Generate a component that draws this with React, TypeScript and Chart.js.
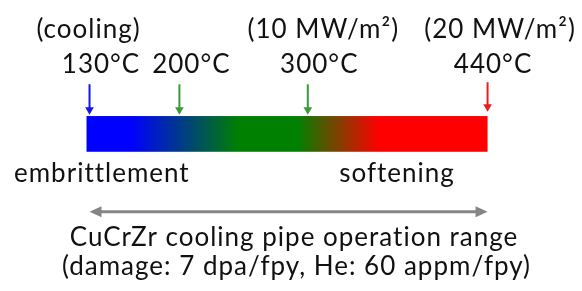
import React, { useEffect, useRef } from "react";
import { Chart, registerables } from "chart.js";

Chart.register(...registerables);

// ---- data ----
const markerTemps = [130, 200, 300, 440];
const markerLabels = ["130°C", "200°C", "300°C", "440°C"];
const markerNotes = ["(cooling)", "", "(10 MW/m²)", "(20 MW/m²)"];
const markerColors = ["#1515e6", "#3b9b3b", "#3b9b3b", "#e52020"];
const rangeStart = 130;
const rangeEnd = 440;
const regionLabels = ["embrittlement", "softening"];
const captionLines = [
  "CuCrZr cooling pipe operation range",
  "(damage: 7 dpa/fpy, He: 60 appm/fpy)",
];

const FONT = "Lato, 'Open Sans', sans-serif";

export default function App() {
  const ref = useRef<HTMLCanvasElement | null>(null);

  useEffect(() => {
    document.body.style.margin = "0";
    document.body.style.background = "#ffffff";
    const canvas = ref.current!;
    const k = (491 - 86) / (rangeEnd - rangeStart);
    const xMin = rangeStart - 86 / k;
    const xMax = rangeStart + (582 - 86) / k;

    const diagram = {
      id: "diagram",
      beforeDatasetsDraw(chart: any) {
        const { ctx } = chart;
        const xs = chart.scales.x;
        const ys = chart.scales.y;
        const X = (v: number) => xs.getPixelForValue(v);
        const Y = (v: number) => ys.getPixelForValue(v);
        ctx.save();
        // gradient bar
        const x0 = X(rangeStart) - 3;
        const x1 = X(rangeEnd);
        const y0 = Y(115);
        const y1 = Y(152);
        const g = ctx.createLinearGradient(x0, 0, x1, 0);
        g.addColorStop(0, "#0000ff");
        g.addColorStop(0.11, "#0000ff");
        g.addColorStop(0.38, "#008000");
        g.addColorStop(0.525, "#008000");
        g.addColorStop(0.73, "#ff0000");
        g.addColorStop(1, "#ff0000");
        ctx.fillStyle = g;
        ctx.fillRect(x0, y0, x1 - x0, y1 - y0);

        // gray double arrow
        const ay = Y(214);
        const ax0 = X(rangeStart);
        const ax1 = X(rangeEnd);
        ctx.strokeStyle = "#858585";
        ctx.fillStyle = "#858585";
        ctx.lineWidth = 3;
        ctx.beginPath();
        ctx.moveTo(ax0 + 8, ay);
        ctx.lineTo(ax1 - 8, ay);
        ctx.stroke();
        ctx.beginPath();
        ctx.moveTo(ax0, ay);
        ctx.lineTo(ax0 + 12, ay - 5.5);
        ctx.lineTo(ax0 + 12, ay + 5.5);
        ctx.closePath();
        ctx.fill();
        ctx.beginPath();
        ctx.moveTo(ax1, ay);
        ctx.lineTo(ax1 - 12, ay - 5.5);
        ctx.lineTo(ax1 - 12, ay + 5.5);
        ctx.closePath();
        ctx.fill();

        // texts
        ctx.fillStyle = "#111111";
        ctx.textBaseline = "alphabetic";
        ctx.font = `26px ${FONT}`;
        (ctx as any).letterSpacing = "1px";
        ctx.textAlign = "center";
        const labelDx = [11.5, 12, 11.5, 5.5];
        const noteDx = [-1, 0, 15.5, 12.5];
        markerTemps.forEach((t, i) => {
          ctx.fillText(markerLabels[i], X(t) + labelDx[i], Y(70));
          if (markerNotes[i]) ctx.fillText(markerNotes[i], X(t) + noteDx[i], Y(34));
        });
        ctx.textAlign = "left";
        ctx.fillText(regionLabels[0], 14, Y(183));
        ctx.textAlign = "center";
        ctx.fillText(regionLabels[1], 397, Y(183));
        ctx.fillText(captionLines[0], 294, Y(250));
        ctx.fillText(captionLines[1], 296.5, Y(280));
        ctx.restore();
      },
    };

    const datasets = markerTemps.map((t, i) => ({
      type: "line" as const,
      data: [
        { x: t, y: i === 3 ? 80 : 82 },
        { x: t, y: i === 3 ? 105.5 : 108.5 },
      ],
      borderColor: markerColors[i],
      backgroundColor: markerColors[i],
      borderWidth: 2,
      pointRadius: [0, 5],
      pointStyle: "triangle",
      rotation: 180,
      pointBorderWidth: 0,
      pointBackgroundColor: markerColors[i],
    }));

    const chart = new Chart(canvas, {
      type: "line",
      data: { datasets },
      options: {
        animation: false,
        responsive: false,
        maintainAspectRatio: false,
        layout: { padding: 0 },
        plugins: { legend: { display: false }, tooltip: { enabled: false } },
        scales: {
          x: { type: "linear", min: xMin, max: xMax, display: false },
          y: { type: "linear", min: 0, max: 291, reverse: true, display: false },
        },
      },
      plugins: [diagram],
    });
    return () => chart.destroy();
  }, []);

  return <canvas ref={ref} width={582} height={291} style={{ display: "block" }} />;
}
